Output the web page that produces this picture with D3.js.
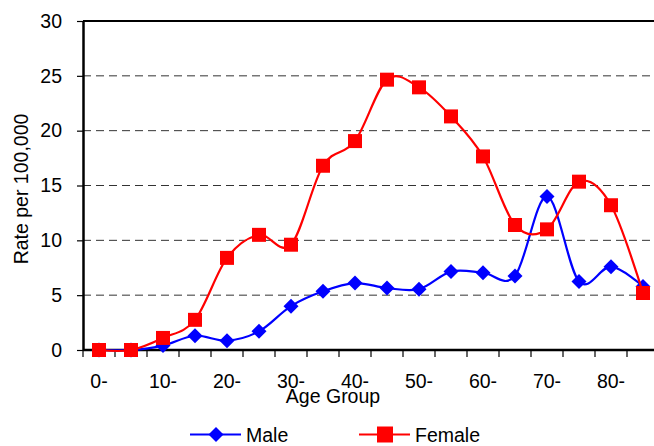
<!DOCTYPE html>
<html>
<head>
<meta charset="utf-8">
<script src="https://cdn.jsdelivr.net/npm/d3@7"></script>
<style>
  html, body { margin: 0; padding: 0; background: #fff; }
  svg { display: block; font-family: "Liberation Sans", Arial, sans-serif; }
</style>
</head>
<body>
<svg id="chart" width="654" height="446"></svg>
<script>
// ── DATA ─────────────────────────────────────────────────────
const ageGroups = ['0-','5-','10-','15-','20-','25-','30-','35-','40-','45-',
                   '50-','55-','60-','65-','70-','75-','80-','85-'];
const maleRates   = [0, 0, 0.4, 1.3, 0.85, 1.7, 4.0, 5.35, 6.1, 5.65,
                     5.55, 7.15, 7.05, 6.75, 14.0, 6.25, 7.6, 5.8];
const femaleRates = [0, 0, 1.1, 2.75, 8.4, 10.5, 9.6, 16.8, 19.05, 24.65,
                     23.95, 21.3, 17.65, 11.4, 11.0, 15.35, 13.2, 5.2];
const yTicks = [0, 5, 10, 15, 20, 25, 30];

// ── LAYOUT ───────────────────────────────────────────────────
const L = 83, R = 659, T = 21, B = 350;
const FS = 19.5;
const svg = d3.select('#chart');

const x = d3.scaleBand().domain(ageGroups).range([L, R]);
const y = d3.scaleLinear().domain([0, 30]).range([B, T]);
const cx = d => x(d) + x.bandwidth() / 2;

// gridlines
svg.append('g').selectAll('line')
  .data(yTicks.filter(t => t > 0 && t < 30))
  .join('line')
  .attr('x1', L).attr('x2', R)
  .attr('y1', d => y(d)).attr('y2', d => y(d))
  .attr('stroke', '#333').attr('stroke-width', 1)
  .attr('stroke-dasharray', '8,5');

// top frame line
svg.append('line')
  .attr('x1', L).attr('x2', R).attr('y1', T).attr('y2', T)
  .attr('stroke', '#000').attr('stroke-width', 2);

// y axis
const yAxis = svg.append('g')
  .attr('transform', `translate(${L},0)`)
  .call(d3.axisLeft(y).tickValues(yTicks).tickSize(6).tickSizeOuter(0).tickPadding(15));
yAxis.select('.domain').attr('stroke-width', 2.5);
yAxis.selectAll('.tick line').attr('stroke-width', 1.2);
yAxis.selectAll('.tick text').attr('font-size', FS).attr('fill', '#000')
  .attr('font-family', '"Liberation Sans", Arial, sans-serif');

// x axis (ticks at band boundaries)
const xg = svg.append('g');
xg.append('line')
  .attr('x1', L).attr('x2', R).attr('y1', B).attr('y2', B)
  .attr('stroke', '#000').attr('stroke-width', 2.5);
xg.selectAll('line.tk')
  .data(d3.range(ageGroups.length + 1))
  .join('line')
  .attr('class', 'tk')
  .attr('x1', i => L + i * x.step()).attr('x2', i => L + i * x.step())
  .attr('y1', B).attr('y2', B + 7)
  .attr('stroke', '#000').attr('stroke-width', 1.2);
xg.selectAll('text')
  .data(ageGroups.filter((d, i) => i % 2 === 0 && i < 17))
  .join('text')
  .attr('x', d => cx(d)).attr('y', 388)
  .attr('text-anchor', 'middle').attr('font-size', FS)
  .text(d => d);

// axis titles
svg.append('text')
  .attr('x', 333).attr('y', 403).attr('text-anchor', 'middle')
  .attr('font-size', FS).text('Age Group');
svg.append('text')
  .attr('transform', 'translate(28,189) rotate(-90)')
  .attr('text-anchor', 'middle').attr('font-size', FS)
  .text('Rate per 100,000');

// ── SERIES ───────────────────────────────────────────────────
const line = d3.line()
  .x((d, i) => cx(ageGroups[i]))
  .y(d => y(d))
  .curve(d3.curveCatmullRom.alpha(0));

const diamond = s => `M0,${-s}L${s},0L0,${s}L${-s},0Z`;

function drawSeries(vals, color, shape) {
  const g = svg.append('g');
  g.append('path').datum(vals)
    .attr('d', line).attr('fill', 'none')
    .attr('stroke', color).attr('stroke-width', 2.2);
  g.selectAll('path.mk').data(vals).join('path')
    .attr('class', 'mk')
    .attr('transform', (d, i) => `translate(${cx(ageGroups[i])},${y(d)})`)
    .attr('d', shape)
    .attr('fill', color);
}

const squarePath = 'M-7,-7H7V7H-7Z';
drawSeries(maleRates, '#0000ff', diamond(7.5));
drawSeries(femaleRates, '#ff0000', squarePath);

// ── LEGEND ───────────────────────────────────────────────────
const legend = [
  { name: 'Male', color: '#0000ff', shape: diamond(7.5), x0: 190 },
  { name: 'Female', color: '#ff0000', shape: 'M-8,-8H8V8H-8Z', x0: 359 }
];
const lg = svg.append('g').selectAll('g').data(legend).join('g')
  .attr('transform', d => `translate(${d.x0},434.5)`);
lg.append('line').attr('x1', 0).attr('x2', 51).attr('y1', 0).attr('y2', 0)
  .attr('stroke', d => d.color).attr('stroke-width', 2.2);
lg.append('path').attr('transform', 'translate(26,0)')
  .attr('d', d => d.shape).attr('fill', d => d.color);
lg.append('text').attr('x', 56).attr('y', 7)
  .attr('font-size', FS).text(d => d.name);
</script>
</body>
</html>
